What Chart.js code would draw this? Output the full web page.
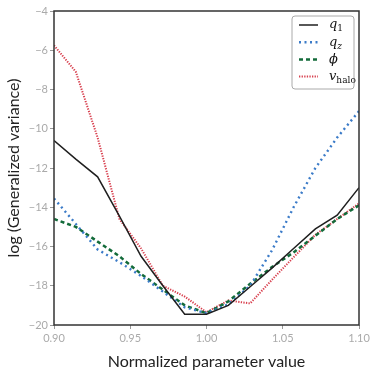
<!DOCTYPE html>
<html lang="en">
<head>
    <meta charset="UTF-8">
    <title>Generalized variance</title>
    <script src="https://cdn.jsdelivr.net/npm/chart.js@4.4.1/dist/chart.umd.min.js"></script>
    <style>
        body { margin: 0; background: #fff; }
        #wrap { width: 374px; height: 374px; }
    </style>
</head>
<body>
    <div id="wrap"><canvas id="varChart" width="374" height="374"></canvas></div>

    <script>
        // normalized parameter values (x)
        const xs = [0.9, 0.9143, 0.9286, 0.9429, 0.9571, 0.9714, 0.9857, 1.0,
                    1.0143, 1.0286, 1.0429, 1.0571, 1.0714, 1.0857, 1.1];

        const q1    = [-10.6, -11.55, -12.45, -14.45, -16.5, -18.0, -19.45, -19.45,
                       -19.0, -18.05, -17.1, -16.1, -15.1, -14.4, -13.0];
        const qz    = [-13.55, -14.85, -16.15, -16.8, -17.5, -18.3, -19.1, -19.4,
                       -18.95, -18.0, -16.2, -14.0, -12.0, -10.45, -9.1];
        const phi   = [-14.6, -15.0, -15.75, -16.5, -17.4, -18.2, -19.0, -19.4,
                       -18.8, -17.9, -17.05, -16.3, -15.45, -14.6, -13.9];
        const vhalo = [-5.75, -7.1, -10.45, -14.6, -16.1, -18.0, -18.55, -19.35,
                       -18.75, -18.9, -17.7, -16.55, -15.4, -14.6, -13.8];

        const xTicks = [0.90, 0.95, 1.00, 1.05, 1.10];
        const yTicks = [-4, -6, -8, -10, -12, -14, -16, -18, -20];

        // legend labels: [main letter, subscript]
        const legendLabels = [['q', '1'], ['q', 'z'], ['\u03D5', ''], ['v', 'halo']];

        function pts(ys) {
            return xs.map((x, i) => ({ x: x, y: ys[i] }));
        }

        const frame = {
            id: 'frame',
            afterDraw(chart) {
                const a = chart.chartArea;
                const ctx = chart.ctx;
                ctx.save();
                ctx.strokeStyle = '#333';
                ctx.lineWidth = 1.5;
                ctx.strokeRect(a.left, a.top, a.right - a.left, a.bottom - a.top);
                ctx.restore();
            }
        };

        const mathLegend = {
            id: 'mathLegend',
            afterDraw(chart) {
                const ctx = chart.ctx;
                const bx = 292, by = 16, bw = 62, bh = 73;
                ctx.save();
                ctx.beginPath();
                ctx.roundRect(bx, by, bw, bh, 3);
                ctx.fillStyle = 'rgba(255,255,255,0.85)';
                ctx.fill();
                ctx.strokeStyle = '#aaa';
                ctx.lineWidth = 1;
                ctx.stroke();

                chart.data.datasets.forEach((ds, i) => {
                    const y = 25 + i * 17.2;
                    ctx.beginPath();
                    ctx.strokeStyle = ds.borderColor;
                    ctx.lineWidth = ds.borderWidth;
                    ctx.setLineDash(ds.borderDash || []);
                    ctx.moveTo(299, y);
                    ctx.lineTo(318, y);
                    ctx.stroke();
                    ctx.setLineDash([]);

                    const [main, sub] = legendLabels[i];
                    ctx.fillStyle = '#111';
                    ctx.textBaseline = 'middle';
                    ctx.font = 'italic 13px "DejaVu Serif"';
                    ctx.fillText(main, 329, y);
                    const w = ctx.measureText(main).width;
                    if (sub) {
                        ctx.font = (sub === 'z' ? 'italic ' : '') + '9px "DejaVu Serif"';
                        ctx.fillText(sub, 329 + w, y + 4);
                    }
                });
                ctx.restore();
            }
        };

        const tickGrid = { display: true, drawOnChartArea: false, drawTicks: true, tickLength: 4, color: '#999' };

        new Chart(document.getElementById('varChart'), {
            type: 'line',
            data: {
                datasets: [
                    { data: pts(q1), borderColor: '#1f1f1f', borderWidth: 1.5, borderDash: [] },
                    { data: pts(qz), borderColor: '#3b7bc8', borderWidth: 2.4, borderDash: [2, 3.5] },
                    { data: pts(phi), borderColor: '#136b3a', borderWidth: 2.5, borderDash: [4, 3] },
                    { data: pts(vhalo), borderColor: '#d8404f', borderWidth: 2, borderDash: [1.3, 1.3] }
                ]
            },
            options: {
                responsive: false,
                devicePixelRatio: 1,
                animation: false,
                elements: { point: { radius: 0 }, line: { tension: 0, fill: false } },
                layout: { padding: { top: 11, right: 15, left: 0, bottom: 0 } },
                plugins: { legend: { display: false }, tooltip: { enabled: false } },
                scales: {
                    x: {
                        type: 'linear',
                        min: 0.9,
                        max: 1.1,
                        afterBuildTicks: s => { s.ticks = xTicks.map(v => ({ value: v })); },
                        afterFit: s => { s.height = 49; },
                        grid: tickGrid,
                        border: { display: false },
                        ticks: {
                            color: '#aaa',
                            font: { family: 'Lato', size: 11 },
                            padding: 3,
                            callback: v => v.toFixed(2)
                        },
                        title: {
                            display: true,
                            text: 'Normalized parameter value',
                            color: '#222',
                            font: { family: 'Lato', size: 16 },
                            padding: { top: 4, bottom: 3 }
                        }
                    },
                    y: {
                        min: -20,
                        max: -4,
                        afterBuildTicks: s => { s.ticks = yTicks.map(v => ({ value: v })); },
                        afterFit: s => { s.width = 54; },
                        grid: tickGrid,
                        border: { display: false },
                        ticks: {
                            color: '#aaa',
                            font: { family: 'Lato', size: 11 },
                            padding: 2,
                            callback: v => (v < 0 ? '\u2212' : '') + Math.abs(v)
                        },
                        title: {
                            display: true,
                            text: 'log (Generalized variance)',
                            color: '#222',
                            font: { family: 'Lato', size: 16 },
                            padding: { top: 4, bottom: 2 }
                        }
                    }
                }
            },
            plugins: [frame, mathLegend]
        });
    </script>
</body>
</html>
